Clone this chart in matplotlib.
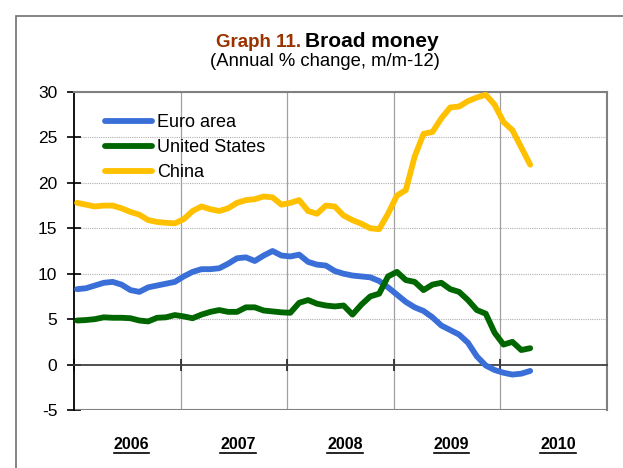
import numpy as np
import matplotlib
matplotlib.use('Agg')
import matplotlib.pyplot as plt
from matplotlib.patches import Rectangle
from matplotlib.lines import Line2D

plt.rcParams['font.family'] = ['Liberation Sans', 'DejaVu Sans']
plt.rcParams['axes.unicode_minus'] = False

# ── Data (monthly, Jan 2006 .. Apr 2010) ────────────────────────────────────
months = np.arange(52)
euro_area = [8.3, 8.4, 8.7, 9.0, 9.1, 8.8, 8.2, 8.0, 8.5, 8.7, 8.9, 9.1,
             9.7, 10.2, 10.5, 10.5, 10.6, 11.1, 11.7, 11.8, 11.4, 12.0, 12.5, 12.0,
             11.9, 12.1, 11.3, 11.0, 10.9, 10.3, 10.0, 9.8, 9.7, 9.6, 9.2, 8.5,
             7.7, 6.9, 6.3, 5.9, 5.2, 4.3, 3.8, 3.3, 2.4, 0.9, -0.1, -0.6,
             -0.9, -1.1, -1.0, -0.7]
united_states = [4.85, 4.9, 5.0, 5.2, 5.15, 5.15, 5.1, 4.85, 4.75, 5.15, 5.2, 5.45,
                 5.3, 5.1, 5.5, 5.8, 6.0, 5.8, 5.8, 6.3, 6.3, 5.95, 5.85, 5.75,
                 5.7, 6.8, 7.1, 6.7, 6.5, 6.4, 6.5, 5.5, 6.6, 7.5, 7.8, 9.7,
                 10.2, 9.3, 9.1, 8.2, 8.8, 9.0, 8.3, 8.0, 7.1, 6.0, 5.6, 3.5,
                 2.2, 2.5, 1.6, 1.8]
china = [17.8, 17.6, 17.4, 17.5, 17.5, 17.2, 16.8, 16.5, 15.9, 15.7, 15.6, 15.55,
         16.0, 16.9, 17.4, 17.1, 16.9, 17.2, 17.8, 18.1, 18.2, 18.5, 18.4, 17.6,
         17.8, 18.1, 16.9, 16.6, 17.5, 17.4, 16.4, 15.9, 15.5, 15.0, 14.9, 16.6,
         18.6, 19.2, 22.9, 25.4, 25.6, 27.1, 28.3, 28.4, 29.0, 29.4, 29.7, 28.6,
         26.7, 25.8, 23.9, 22.0]
years = [2006, 2007, 2008, 2009, 2010]

x = 2006 + (months + 0.35) / 12

BLUE = '#3A6FD8'
GREEN = '#006600'
YELLOW = '#FFC000'
GRID = '#A0A0A0'

fig = plt.figure(figsize=(6.23, 4.68), dpi=100)
fig.patch.set_facecolor('white')

# outer frame
fig.patches.append(Rectangle((16 / 623, -0.1), 1.2, 1 - 16 / 468 + 0.1,
                             transform=fig.transFigure, fill=False,
                             edgecolor='#707070', linewidth=1.2))

ax = fig.add_axes([74 / 623, 1 - 410 / 468, 533 / 623, 318 / 468])

line_kw = dict(lw=4.2, solid_capstyle='round', solid_joinstyle='round', zorder=3)
ax.plot(x, euro_area, color=BLUE, label='Euro area', **line_kw)
ax.plot(x, united_states, color=GREEN, label='United States', **line_kw)
ax.plot(x, china, color=YELLOW, label='China', **line_kw)

ax.set_xlim(2006, 2011)
ax.set_ylim(-5, 30)
ax.set_yticks(range(-5, 31, 5))

# grid: dotted horizontals, solid verticals at year boundaries
for v in range(5, 31, 5):
    ax.axhline(v, color='#B0B0B0', lw=0.8, ls=(0, (1, 1)), zorder=1)
for yr in years[1:]:
    ax.axvline(yr, color=GRID, lw=0.9, zorder=1)
ax.axhline(-5, color='#808080', lw=1.5, zorder=2)

# x axis crosses at zero
ax.spines['bottom'].set_position(('data', 0))
ax.spines['bottom'].set_color('#404040')
ax.spines['bottom'].set_linewidth(1.3)
ax.set_xticks(years + [2011])
ax.set_xticklabels([])
ax.tick_params(axis='x', direction='inout', length=8, width=1.2, color='#202020')

ax.spines['left'].set_color('black')
ax.spines['left'].set_linewidth(1.3)
for side in ('top', 'right'):
    ax.spines[side].set_color('#808080')
    ax.spines[side].set_linewidth(1.5)
ax.tick_params(axis='y', direction='inout', length=10, width=1.2,
               labelsize=12.5, pad=7)

year_texts = []
for yr in years:
    t = ax.text(yr + 0.54, -0.085, str(yr), transform=ax.get_xaxis_transform(),
                ha='center', va='top', fontsize=11.5, fontweight='bold')
    year_texts.append(t)

ax.legend(loc='upper left', bbox_to_anchor=(0.038, 0.965), frameon=False,
          fontsize=13, handlelength=2.6, handletextpad=0.3,
          labelspacing=0.45, borderaxespad=0.2)

# title
fig.text(301 / 623, 1 - 47 / 468, 'Graph 11.', ha='right', va='baseline',
         fontsize=13.5, fontweight='bold', color='#993300')
fig.text(305 / 623, 1 - 47 / 468, 'Broad money', ha='left', va='baseline',
         fontsize=15, fontweight='bold', color='black')
fig.text(325 / 623, 1 - 62 / 468, '(Annual % change, m/m-12)', ha='center',
         va='center', fontsize=13.3, color='black')

# underline the year labels
fig.canvas.draw()
r = fig.canvas.get_renderer()
inv = fig.transFigure.inverted()
for t in year_texts:
    bb = t.get_window_extent(r)
    (x0, y0), (x1, _) = inv.transform([(bb.x0, bb.y0), (bb.x1, bb.y1)])
    fig.lines.append(Line2D([x0, x1], [y0 - 0.002, y0 - 0.002],
                            transform=fig.transFigure, color='black', lw=1.2))

fig.savefig('out.png', dpi=100, facecolor='white')
